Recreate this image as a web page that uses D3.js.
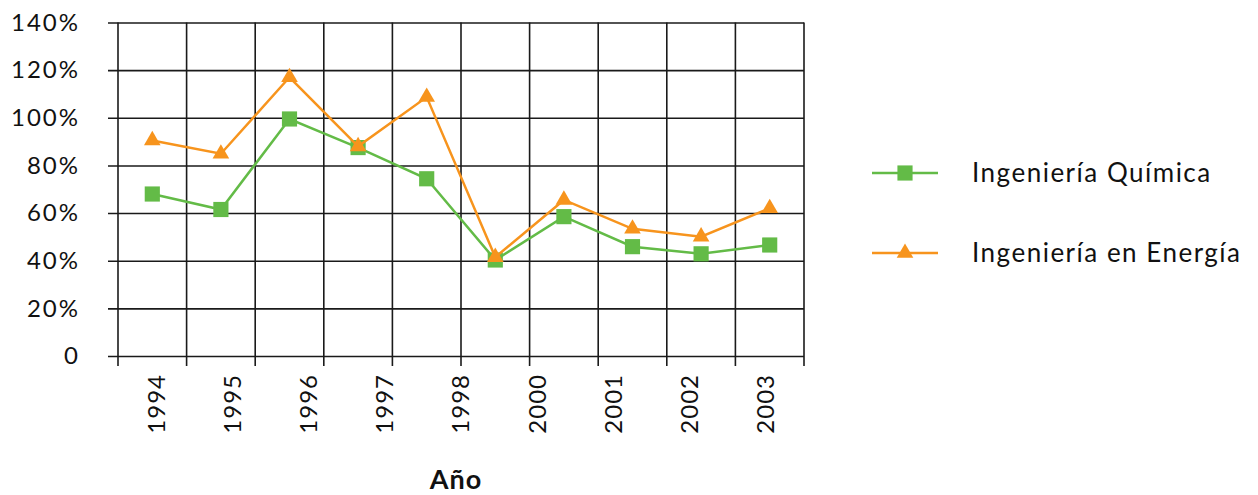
<!DOCTYPE html>
<html>
<head>
<meta charset="utf-8">
<script src="https://cdn.jsdelivr.net/npm/d3@7"></script>
<style>
  body { margin: 0; background: #fff; }
  text { font-family: Lato, "DejaVu Sans", sans-serif; fill: #111; }
</style>
</head>
<body>
<div id="chart"></div>
<script>
// 10 data points, but the source only shows 9 year labels
var points = [0, 1, 2, 3, 4, 5, 6, 7, 8, 9];
var yearLabels = ["1994", "1995", "1996", "1997", "1998", "2000", "2001", "2002", "2003"];
var quimica = [68, 61.5, 99.5, 87.5, 74.4, 40.3, 58.5, 45.9, 42.9, 46.6];
var energia = [90.5, 84.9, 117, 88, 108.7, 41.5, 65.5, 53.4, 50.1, 62];
var yTicks = [0, 20, 40, 60, 80, 100, 120, 140];

var series = [
  {name: "Ingeniería Química", values: quimica, color: "#63bb47", shape: d3.symbolSquare},
  {name: "Ingeniería en Energía", values: energia, color: "#f7941d", shape: d3.symbolTriangle}
];

var margin = {top: 22.5, right: 454, bottom: 139, left: 118},
    width = 1258 - margin.left - margin.right,
    height = 495 - margin.top - margin.bottom;

var svg = d3.select("#chart")
  .append("svg")
    .attr("width", 1258)
    .attr("height", 495)
  .append("g")
    .attr("transform", "translate(" + margin.left + "," + margin.top + ")");

var x = d3.scaleBand()
    .domain(points)
    .range([0, width]);

var xLab = d3.scaleBand()
    .domain(yearLabels)
    .range([0, width]);

var y = d3.scaleLinear()
    .domain([0, 140])
    .range([height, 0]);

// horizontal grid
svg.append("g")
    .call(d3.axisLeft(y).tickValues(yTicks).tickSize(-width - 10)
      .tickFormat(function(d) { return d === 0 ? "0" : d + "%"; }))
    .attr("transform", "translate(-10,0)")
    .call(function(g) {
      g.select(".domain").remove();
      g.selectAll("line").attr("stroke", "#1a1a1a").attr("stroke-width", 1.6);
      g.selectAll("text").attr("x", -28)
        .style("font-size", "24px").style("letter-spacing", "2px");
    });

// vertical grid, sticking out below the axis
var bounds = points.map(function(d) { return x(d); }).concat([width]);
svg.append("g").selectAll("line")
  .data(bounds)
  .enter()
  .append("line")
    .attr("x1", function(d) { return d; })
    .attr("x2", function(d) { return d; })
    .attr("y1", 0)
    .attr("y2", height + 10)
    .attr("stroke", "#1a1a1a")
    .attr("stroke-width", 1.6);

// x labels
svg.append("g").selectAll("text")
  .data(yearLabels)
  .enter()
  .append("text")
    .attr("transform", function(d) {
      return "translate(" + (xLab(d) + xLab.bandwidth() / 2) + "," + (height + 18) + ") rotate(-90)";
    })
    .attr("dy", "0.35em")
    .attr("text-anchor", "end")
    .style("font-size", "24px")
    .style("letter-spacing", "1px")
    .text(function(d) { return d; });

svg.append("text")
    .attr("x", 456 - margin.left)
    .attr("y", 489 - margin.top)
    .attr("text-anchor", "middle")
    .style("font-size", "27px")
    .style("font-weight", "bold")
    .style("letter-spacing", "1px")
    .text("Año");

var line = d3.line()
    .x(function(d, i) { return x(points[i]) + x.bandwidth() / 2; })
    .y(function(d) { return y(d); });

series.forEach(function(s) {
  svg.append("path")
      .datum(s.values)
      .attr("d", line)
      .attr("fill", "none")
      .attr("stroke", s.color)
      .attr("stroke-width", 2.5);

  svg.selectAll(null)
    .data(s.values)
    .enter()
    .append("path")
      .attr("d", d3.symbol().type(s.shape).size(s.shape === d3.symbolSquare ? 230 : 120))
      .attr("transform", function(d, i) {
        return "translate(" + (x(points[i]) + x.bandwidth() / 2) + "," + y(d) + ")";
      })
      .attr("fill", s.color);
});

// legend
var legend = svg.append("g")
    .attr("transform", "translate(" + (872 - margin.left) + "," + (173 - margin.top) + ")");

series.forEach(function(s, i) {
  var g = legend.append("g").attr("transform", "translate(0," + (i * 80) + ")");
  g.append("line")
      .attr("x1", 0).attr("x2", 66)
      .attr("stroke", s.color)
      .attr("stroke-width", 2.5);
  g.append("path")
      .attr("d", d3.symbol().type(s.shape).size(s.shape === d3.symbolSquare ? 230 : 120))
      .attr("transform", "translate(33,0)")
      .attr("fill", s.color);
  g.append("text")
      .attr("x", 100)
      .attr("dy", "0.35em")
      .style("font-size", "26px")
      .style("letter-spacing", "1.5px")
      .text(s.name);
});
</script>
</body>
</html>
